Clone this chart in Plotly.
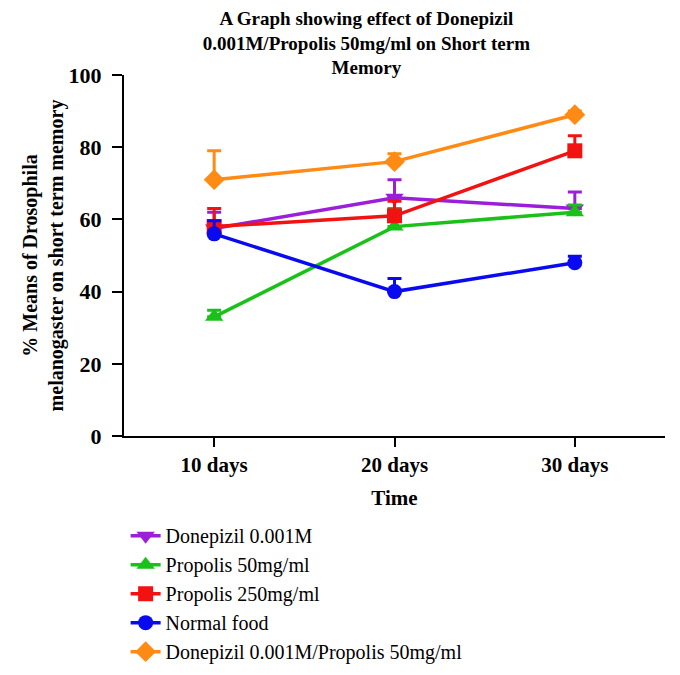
import plotly.graph_objects as go

# Data
days = ["10 days", "20 days", "30 days"]

donepizil = [57.5, 66, 63]
donepizil_err = [4.5, 5, 4.6]

propolis_50 = [33, 58, 62]
propolis_50_err = [1.8, 5, 2]

propolis_250 = [58, 61, 79]
propolis_250_err = [5, 4, 4.2]

normal_food = [56, 40, 48]
normal_food_err = [3.6, 3.6, 1.8]

combo = [71, 76, 89]
combo_err = [8, 2.2, 1]

series = [
    ("Donepizil 0.001M", donepizil, donepizil_err, "#9b1fd9", "triangle-down", 16),
    ("Propolis 50mg/ml", propolis_50, propolis_50_err, "#19c119", "triangle-up", 16),
    ("Propolis 250mg/ml", propolis_250, propolis_250_err, "#f21212", "square", 15),
    ("Normal food", normal_food, normal_food_err, "#0a0af0", "circle", 15),
    ("Donepizil 0.001M/Propolis 50mg/ml", combo, combo_err, "#ff8a14", "diamond", 16),
]

SERIF = "Liberation Serif"

fig = go.Figure()

for name, vals, errs, color, symbol, msize in series:
    fig.add_trace(
        go.Scatter(
            x=days,
            y=vals,
            name=name,
            mode="lines+markers",
            line=dict(color=color, width=3.5),
            marker=dict(color=color, symbol=symbol, size=msize),
            error_y=dict(
                type="data",
                array=errs,
                arrayminus=[0] * len(errs),
                symmetric=False,
                color=color,
                thickness=3,
                width=7,
            ),
        )
    )

# the html page puts the figure 8px in from the top-left, so margins are trimmed by that
fig.update_layout(
    width=680,
    height=675,
    paper_bgcolor="white",
    plot_bgcolor="white",
    margin=dict(l=116, r=23, t=67, b=247, autoexpand=False),
    title=dict(
        text="<b>A Graph showing effect of Donepizil<br>0.001M/Propolis 50mg/ml on Short term<br>Memory</b>",
        x=0.527,
        xanchor="center",
        y=0.975,
        yanchor="top",
        font=dict(family=SERIF, size=19, color="black"),
    ),
    xaxis=dict(
        range=[-0.5, 2.5],
        automargin=False,
        showline=True,
        linecolor="black",
        linewidth=2,
        ticks="outside",
        ticklen=9,
        tickwidth=2,
        tickcolor="black",
        showgrid=False,
        zeroline=False,
        tickfont=dict(family=SERIF, size=21, color="black", weight="bold"),
        title=dict(
            text="<b>Time</b>",
            font=dict(family=SERIF, size=21, color="black"),
            standoff=14,
        ),
    ),
    yaxis=dict(
        range=[0, 100],
        tickvals=[0, 20, 40, 60, 80, 100],
        automargin=False,
        showline=True,
        linecolor="black",
        linewidth=2,
        ticks="outside",
        ticklen=10,
        tickwidth=2,
        tickcolor="black",
        ticklabelstandoff=6,
        showgrid=False,
        zeroline=False,
        tickfont=dict(family=SERIF, size=22, color="black", weight="bold"),
        title=dict(
            text="<b>% Means of Drosophila<br>melanogaster on short term memory</b>",
            font=dict(family=SERIF, size=20, color="black"),
            standoff=0,
        ),
    ),
    legend=dict(
        x=0.003,
        xanchor="left",
        y=-0.222,
        yanchor="top",
        font=dict(family=SERIF, size=20, color="black"),
        bgcolor="rgba(0,0,0,0)",
        tracegroupgap=0,
    ),
    showlegend=True,
)

fig.write_html("out.html")
